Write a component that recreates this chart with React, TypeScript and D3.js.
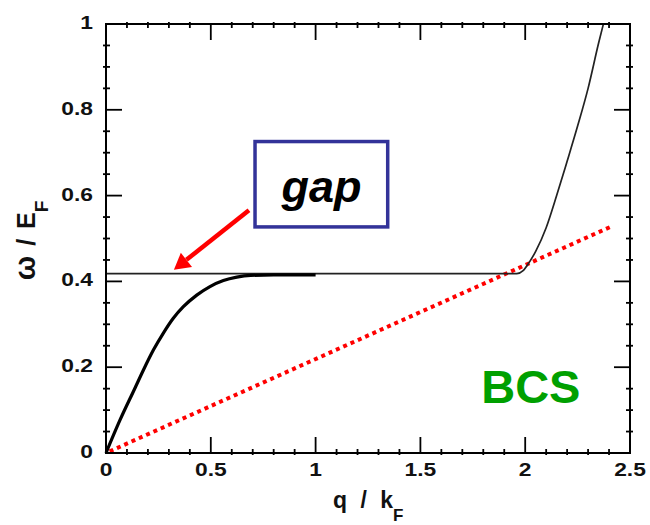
import React from 'react';
import * as d3 from 'd3';

const xMajor = [0, 0.5, 1, 1.5, 2, 2.5];
const xLabels = ['0', '0.5', '1', '1.5', '2', '2.5'];
const yMajor = [0, 0.2, 0.4, 0.6, 0.8, 1];
const yLabels = ['0', '0.2', '0.4', '0.6', '0.8', '1'];

// thick curve (collective mode)
const modeQ = [0, 0.067, 0.138, 0.178, 0.226, 0.273, 0.321, 0.369, 0.433, 0.496, 0.56, 0.624, 0.69, 0.8, 1.0];
const modeW = [0, 0.077, 0.151, 0.193, 0.24, 0.279, 0.314, 0.341, 0.368, 0.388, 0.402, 0.41, 0.414, 0.415, 0.415];

// thin curve (pair-breaking edge)
const edgeQ = [0, 1.96, 1.99, 2.02, 2.05, 2.1, 2.15, 2.2, 2.25, 2.3, 2.35, 2.373];
const edgeW = [0.418, 0.418, 0.425, 0.445, 0.47, 0.525, 0.6, 0.68, 0.762, 0.85, 0.955, 1.0];

// red dotted line
const dotQ = [0, 2.42];
const dotW = [0, 0.53];

// annotations (data units)
const arrowTail = [0.682, 0.566];
const arrowTip = [0.324, 0.427];
const gapBox = [0.711, 0.527, 1.344, 0.726];
const gapText = [1.028, 0.586];
const bcsText = [2.027, 0.117];

const W = 650;
const H = 525;
const font = '"Liberation Sans", Arial, Helvetica, sans-serif';

const x = d3.scaleLinear().domain([0, 2.5]).range([106, 630]);
const y = d3.scaleLinear().domain([0, 1]).range([453, 24]);

const zip = (a: number[], b: number[]) => a.map((v, i) => [v, b[i]] as [number, number]);

const line = d3
  .line<[number, number]>()
  .x(d => x(d[0]))
  .y(d => y(d[1]))
  .curve(d3.curveMonotoneX);

const straight = d3
  .line<[number, number]>()
  .x(d => x(d[0]))
  .y(d => y(d[1]));

export default function App() {
  const x0 = x.range()[0], x1 = x.range()[1];
  const y0 = y.range()[0], y1 = y.range()[1];
  const isMajor = (v: number, majors: number[]) => majors.some(m => Math.abs(m - v) < 1e-6);
  const xMinor = x.ticks(25).filter(v => !isMajor(v, xMajor));
  const yMinor = y.ticks(20).filter(v => !isMajor(v, yMajor));
  const majLen = 16;
  const minLen = 4;

  // arrow geometry
  const tx = x(arrowTail[0]), ty = y(arrowTail[1]);
  const hx = x(arrowTip[0]), hy = y(arrowTip[1]);
  const len = Math.hypot(hx - tx, hy - ty);
  const ux = (hx - tx) / len, uy = (hy - ty) / len;
  const headL = 16, headW = 9;
  const bx = hx - ux * headL, by = hy - uy * headL;
  const head = `M${hx},${hy}L${bx - uy * headW},${by + ux * headW}L${bx + uy * headW},${by - ux * headW}Z`;

  return (
    <svg width={W} height={H} style={{ position: 'absolute', left: 0, top: 0, background: '#fff' }}>
      <rect width={W} height={H} fill="#fff" />

      {/* curves */}
      <path d={straight(zip(dotQ, dotW)) || ''} fill="none" stroke="#ff0000" strokeWidth={4}
        strokeDasharray="4 4" strokeDashoffset={-4} />
      <path d={line(zip(edgeQ, edgeW)) || ''} fill="none" stroke="#222" strokeWidth={1.7} />
      <path d={line(zip(modeQ, modeW)) || ''} fill="none" stroke="#000" strokeWidth={3.2} />

      {/* frame */}
      <rect x={x0} y={y1} width={x1 - x0} height={y0 - y1} fill="none" stroke="#000" strokeWidth={2} />

      {/* ticks */}
      <g stroke="#000" strokeWidth={1.8}>
        {xMajor.map(v => (
          <g key={'xM' + v}>
            <line x1={x(v)} x2={x(v)} y1={y0} y2={y0 - majLen} />
            <line x1={x(v)} x2={x(v)} y1={y1} y2={y1 + majLen} />
          </g>
        ))}
        {xMinor.map(v => (
          <g key={'xm' + v}>
            <line x1={x(v)} x2={x(v)} y1={y0 + 2} y2={y0 - minLen} />
            <line x1={x(v)} x2={x(v)} y1={y1 - 2} y2={y1 + minLen} />
          </g>
        ))}
        {yMajor.map(v => (
          <g key={'yM' + v}>
            <line x1={x0} x2={x0 + majLen} y1={y(v)} y2={y(v)} />
            <line x1={x1} x2={x1 - majLen} y1={y(v)} y2={y(v)} />
          </g>
        ))}
        {yMinor.map(v => (
          <g key={'ym' + v}>
            <line x1={x0 - 3} x2={x0 + minLen} y1={y(v)} y2={y(v)} />
            <line x1={x1 + 3} x2={x1 - minLen} y1={y(v)} y2={y(v)} />
          </g>
        ))}
      </g>

      {/* tick labels */}
      <g fontFamily={font} fontWeight="bold" fontSize={19} fill="#111">
        {xMajor.map((v, i) => (
          <text key={'xl' + v} transform={`translate(${x(v)},${476}) scale(1.2,1)`} textAnchor="middle">
            {xLabels[i]}
          </text>
        ))}
        {yMajor.map((v, i) => (
          <text key={'yl' + v} transform={`translate(${93},${y(v) + 5}) scale(1.2,1)`} textAnchor="end">
            {yLabels[i]}
          </text>
        ))}
      </g>

      {/* axis titles */}
      <text x={333} y={508} fontFamily={font} fontWeight="bold" fontSize={23} fill="#111"
        style={{ wordSpacing: '7px' }}>
        q / k<tspan fontSize={17} dy={13}>F</tspan>
      </text>
      <text transform={`translate(35,${(y0 + y1) / 2 + 2}) rotate(-90)`} textAnchor="middle"
        fontFamily={font} fontWeight="bold" fontSize={25} fill="#111" style={{ wordSpacing: '3px' }}>
        <tspan fontSize={29}>ω</tspan> / E<tspan fontSize={19} dy={13}>F</tspan>
      </text>

      {/* gap annotation */}
      <rect x={x(gapBox[0])} y={y(gapBox[3])} width={x(gapBox[2]) - x(gapBox[0])}
        height={y(gapBox[1]) - y(gapBox[3])} fill="#fff" stroke="#333399" strokeWidth={3.5} />
      <text x={x(gapText[0])} y={y(gapText[1])} textAnchor="middle" fontFamily={font}
        fontWeight="bold" fontStyle="italic" fontSize={45} fill="#000">gap</text>
      <line x1={tx} y1={ty} x2={bx} y2={by} stroke="#ff0000" strokeWidth={4.5} />
      <path d={head} fill="#ff0000" />

      <text x={x(bcsText[0])} y={y(bcsText[1])} textAnchor="middle" fontFamily={font}
        fontWeight="bold" fontSize={47} fill="#00a000">BCS</text>
    </svg>
  );
}
